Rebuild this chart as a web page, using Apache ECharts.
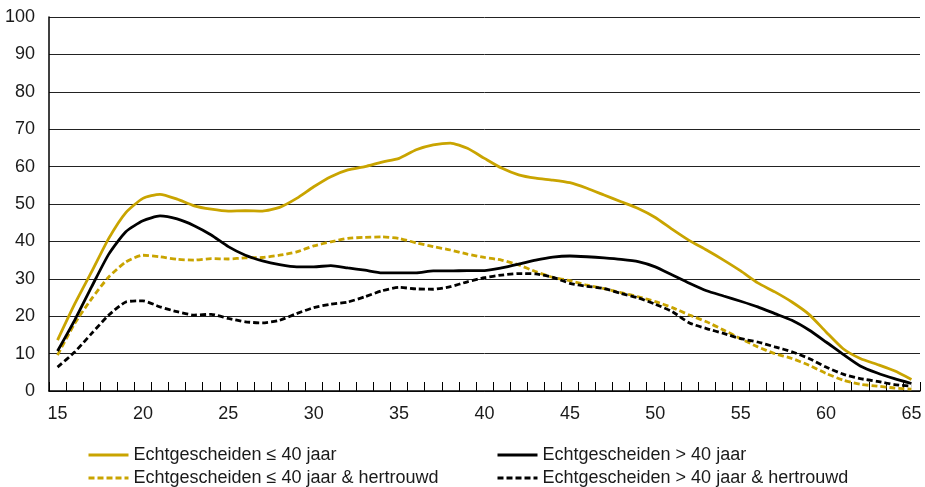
<!DOCTYPE html>
<html>
<head>
<meta charset="utf-8">
<script src="https://cdn.jsdelivr.net/npm/echarts@6/dist/echarts.min.js"></script>
<style>
  html, body { margin: 0; padding: 0; background: #fff; }
  #chart { width: 925px; height: 487px; }
</style>
</head>
<body>
<div id="chart"></div>
<script>
// Ages 15..65
const ages = [];
for (let a = 15; a <= 65; a++) ages.push(String(a));

const yTicks = [0, 10, 20, 30, 40, 50, 60, 70, 80, 90, 100];

const seriesNames = [
  'Echtgescheiden ≤ 40 jaar',
  'Echtgescheiden > 40 jaar',
  'Echtgescheiden ≤ 40 jaar & hertrouwd',
  'Echtgescheiden > 40 jaar & hertrouwd'
];

// Echtgescheiden ≤ 40 jaar
const under40 = [
  13.6, 23.2, 31.9, 40.8, 47.7, 51.5, 52.6, 51.3, 49.5, 48.6,
  48.1, 48.2, 48.1, 49.1, 51.5, 54.6, 57.3, 59.1, 60.0, 61.2,
  62.2, 64.5, 65.8, 66.3, 64.9, 62.2, 59.6, 57.8, 56.9, 56.4,
  55.7, 54.2, 52.4, 50.6, 48.8, 46.4, 43.2, 40.2, 37.7, 35.0,
  32.1, 28.9, 26.5, 23.8, 20.5, 15.8, 11.3, 8.7, 7.1, 5.4,
  3.1
];

// Echtgescheiden > 40 jaar
const over40 = [
  10.7, 18.9, 27.9, 36.6, 42.6, 45.5, 46.8, 46.0, 44.2, 41.7,
  38.6, 36.3, 34.8, 33.8, 33.2, 33.2, 33.5, 32.9, 32.3, 31.6,
  31.6, 31.6, 32.1, 32.1, 32.2, 32.2, 32.9, 33.9, 35.0, 35.8,
  36.1, 35.9, 35.6, 35.2, 34.6, 33.2, 31.0, 28.8, 26.8, 25.4,
  24.0, 22.5, 20.7, 18.9, 16.3, 13.1, 9.8, 6.7, 4.8, 3.3,
  2.0
];

// Echtgescheiden ≤ 40 jaar & hertrouwd
const under40Remarried = [
  9.6, 18.0, 24.7, 30.5, 34.5, 36.3, 35.9, 35.2, 35.0, 35.4,
  35.3, 35.6, 35.7, 36.3, 37.2, 38.8, 39.9, 40.8, 41.1, 41.2,
  40.8, 39.6, 38.6, 37.7, 36.6, 35.7, 35.0, 33.7, 31.9, 30.4,
  29.5, 28.3, 27.4, 26.3, 25.2, 23.9, 22.3, 20.3, 18.5, 16.3,
  14.0, 11.8, 10.0, 8.7, 6.9, 4.7, 2.9, 1.8, 1.3, 0.8,
  0.5
];

// Echtgescheiden > 40 jaar & hertrouwd
const over40Remarried = [
  6.4, 10.4, 15.4, 20.3, 23.8, 24.1, 22.5, 21.2, 20.3, 20.5,
  19.4, 18.5, 18.2, 18.9, 20.7, 22.3, 23.2, 23.8, 25.2, 26.8,
  27.7, 27.3, 27.2, 27.9, 29.2, 30.3, 31.0, 31.4, 31.3, 30.4,
  28.8, 28.0, 27.4, 26.1, 24.9, 23.2, 21.2, 18.2, 16.7, 15.4,
  14.0, 13.1, 11.8, 10.5, 8.7, 6.4, 4.5, 3.3, 2.6, 1.7,
  1.3
];

const GOLD = '#C9A400';
const BLACK = '#000000';
const FONT = '"Liberation Sans", Arial, sans-serif';

function lineSeries(name, data, color, dashed) {
  return {
    name: name,
    type: 'line',
    data: data,
    symbol: 'none',
    smooth: 0.2,
    lineStyle: {
      color: color,
      width: 2.8,
      type: dashed ? [6, 3] : 'solid'
    },
    itemStyle: { color: color }
  };
}

// One legend entry per component so both columns line up exactly
function legendEntry(name, left, top) {
  return {
    data: [name],
    left: left,
    top: top,
    orient: 'horizontal',
    itemWidth: 40,
    itemHeight: 14,
    itemStyle: { opacity: 0 },
    lineStyle: { width: 3 },
    textStyle: {
      fontFamily: FONT,
      fontSize: 18,
      lineHeight: 18,
      color: '#1a1a1a'
    },
    selectedMode: false
  };
}

const chart = echarts.init(document.getElementById('chart'), null, { renderer: 'canvas' });

chart.setOption({
  animation: false,
  backgroundColor: '#ffffff',
  grid: { left: 49, right: 5, top: 17, bottom: 96 },
  legend: [
    legendEntry(seriesNames[0], 82, 441),
    legendEntry(seriesNames[2], 82, 464),
    legendEntry(seriesNames[1], 491, 441),
    legendEntry(seriesNames[3], 491, 464)
  ],
  xAxis: {
    type: 'category',
    data: ages,
    boundaryGap: true,
    axisLine: { lineStyle: { color: '#000', width: 1.5 } },
    axisTick: { show: true, inside: true, length: 9, interval: 0, lineStyle: { color: '#000', width: 1 } },
    axisLabel: {
      interval: 4,
      margin: 14,
      fontFamily: FONT,
      fontSize: 18,
      color: '#1a1a1a'
    },
    splitLine: { show: false }
  },
  yAxis: {
    type: 'value',
    min: yTicks[0],
    max: yTicks[yTicks.length - 1],
    interval: yTicks[1] - yTicks[0],
    axisLine: { show: true, lineStyle: { color: '#000', width: 1.5 } },
    axisTick: { show: false },
    axisLabel: {
      margin: 14,
      fontFamily: FONT,
      fontSize: 18,
      color: '#1a1a1a'
    },
    splitLine: { show: true, lineStyle: { color: '#222', width: 1 } }
  },
  series: [
    lineSeries(seriesNames[2], under40Remarried, GOLD, true),
    lineSeries(seriesNames[3], over40Remarried, BLACK, true),
    lineSeries(seriesNames[1], over40, BLACK, false),
    lineSeries(seriesNames[0], under40, GOLD, false)
  ]
});
</script>
</body>
</html>
